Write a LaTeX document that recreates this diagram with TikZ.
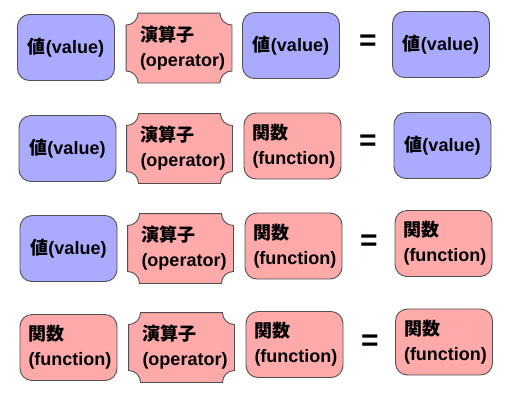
\documentclass[tikz,border=0pt]{standalone}
\usepackage{fontspec}
\setmainfont{Liberation Sans}
\newfontfamily\cjk{Noto Sans CJK JP}
\usetikzlibrary{backgrounds,calc}
\definecolor{valblue}{HTML}{AAAAFF}
\definecolor{fnpink}{HTML}{FFAAAA}
\definecolor{edgegray}{HTML}{505050}
\tikzset{
  basebox/.style={font=\bfseries\fontsize{18}{25}\selectfont, inner sep=0pt, line width=0.9pt, draw=edgegray},
  valbox/.style={basebox, rounded corners=12pt, fill=valblue, minimum width=97pt, minimum height=66pt, align=center},
  fnbox/.style={basebox, rounded corners=12pt, fill=fnpink, minimum width=97pt, minimum height=66pt, align=left, text width=80pt},
  opbox/.style={basebox, draw=none, minimum width=105pt, minimum height=69pt, align=left, text width=78pt},
  opshape/.style={fill=fnpink, draw=edgegray, line width=0.9pt},
  eqsign/.style={font=\bfseries\fontsize{30}{30}\selectfont, inner sep=0pt},
}
\newcommand{\Vtext}{{\cjk 値}(value)}
\newcommand{\Ftext}{{\cjk 関数}\\(function)}
\newcommand{\Otext}{{\cjk 演算子}\\(operator)}
\begin{document}
\begin{tikzpicture}[x=1pt,y=1pt]
\useasboundingbox (0,0) rectangle (508,-400);
% row 1
\node[valbox] (v11) at (66,-47.5) {\Vtext};
\node[opbox]  (o1)  at (179,-48) {\Otext};
\node[valbox] (v12) at (291,-45.5) {\Vtext};
\node[eqsign] (e1)  at (368,-43) {=};
\node[valbox] (v13) at (441,-44.5) {\Vtext};
% row 2
\node[valbox] (v21) at (67.5,-148.5) {\Vtext};
\node[opbox]  (o2)  at (179.5,-148.5) {\Otext};
\node[fnbox]  (f22) at (292.5,-146) {\Ftext};
\node[eqsign] (e2)  at (368,-143) {=};
\node[valbox] (v23) at (442.5,-145.5) {\Vtext};
% row 3
\node[valbox] (v31) at (68.5,-248.5) {\Vtext};
\node[opbox]  (o3)  at (180.5,-248.5) {\Otext};
\node[fnbox]  (f32) at (293.5,-246) {\Ftext};
\node[eqsign] (e3)  at (369,-243) {=};
\node[fnbox]  (f33) at (443.5,-243.5) {\Ftext};
% row 4
\node[fnbox]  (f41) at (68.5,-347.5) {\Ftext};
\node[opbox]  (o4)  at (181.5,-347.5) {\Otext};
\node[fnbox]  (f42) at (294.5,-344.5) {\Ftext};
\node[eqsign] (e4)  at (370,-343) {=};
\node[fnbox]  (f43) at (444,-342) {\Ftext};
\begin{pgfonlayer}{background}
  \fill[white] (0,0) rectangle (508,-400);
  \foreach \n in {o1,o2,o3,o4}{
    \draw[opshape] ($(\n.north west)+(12,0)$) -- ($(\n.north east)+(-12,0)$)
      arc[start angle=180,end angle=270,radius=12pt]
      -- ($(\n.south east)+(0,12)$)
      arc[start angle=90,end angle=180,radius=12pt]
      -- ($(\n.south west)+(12,0)$)
      arc[start angle=0,end angle=90,radius=12pt]
      -- ($(\n.north west)+(0,-12)$)
      arc[start angle=270,end angle=360,radius=12pt] -- cycle;
  }
\end{pgfonlayer}
\end{tikzpicture}
\end{document}
